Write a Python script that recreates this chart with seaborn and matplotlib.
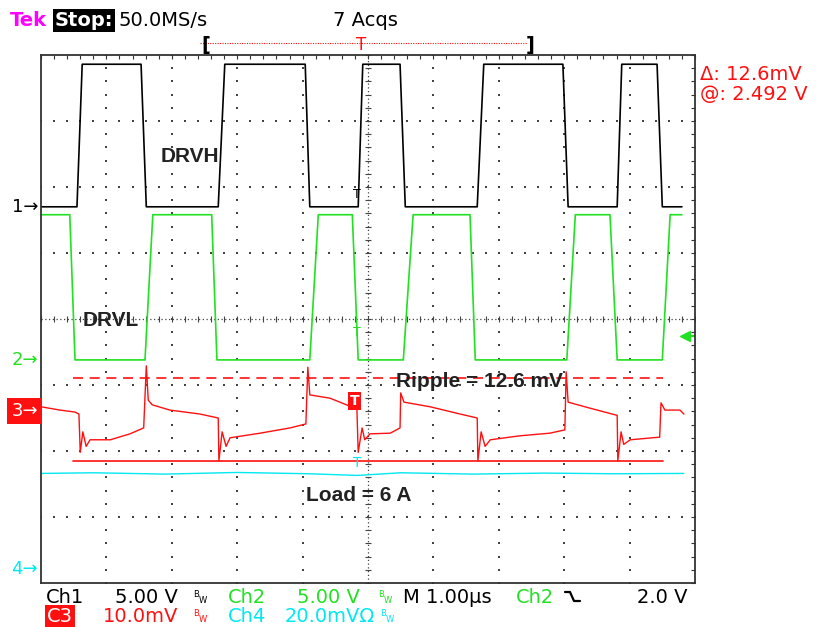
import numpy as np
import matplotlib
matplotlib.use("Agg")
import matplotlib.pyplot as plt
from matplotlib.lines import Line2D
import seaborn as sns

# ---- scope settings ----
W, H = 816, 627
CH1_SCALE, CH1_POS = 5.0, 1.70      # V/div, ground marker (div)
CH2_SCALE, CH2_POS = 5.0, -0.62
CH3_SCALE, CH3_POS = 10.0, -1.38    # mV/div
CH4_SCALE, CH4_POS = 20.0, -3.79

GREEN = "#22e022"
RED = "#ff1010"
CYAN = "#00e8f0"
MAGENTA = "#ff00ff"
TXT = "#222222"

# ---- traces (time in us, centre of screen = 0) ----
drvh_t = [-5.00, -4.45, -4.37, -3.47, -3.39, -2.29, -2.19, -0.96, -0.89, -0.15, -0.08,
          0.49, 0.57, 1.67, 1.77, 2.98, 3.06, 3.81, 3.88, 4.42, 4.50, 4.80]
drvh_v = [0.0, 0.0, 10.8, 10.8, 0.0, 0.0, 10.8, 10.8, 0.0, 0.0, 10.8,
          10.8, 0.0, 0.0, 10.8, 10.8, 0.0, 0.0, 10.8, 10.8, 0.0, 0.0]

drvl_t = [-5.00, -4.56, -4.48, -3.41, -3.29, -2.39, -2.31, -0.89, -0.76, -0.24, -0.15,
          0.54, 0.69, 1.56, 1.64, 3.04, 3.17, 3.70, 3.81, 4.50, 4.62, 4.80]
drvl_v = [11.0, 11.0, 0.0, 0.0, 11.0, 11.0, 0.0, 0.0, 11.0, 11.0, 0.0,
          0.0, 11.0, 11.0, 0.0, 0.0, 11.0, 11.0, 0.0, 0.0, 11.0, 11.0]

ripple_t = [-5.00, -4.71, -4.48, -4.42, -4.40, -4.36, -4.31, -4.25, -3.94, -3.64, -3.43,
            -3.39, -3.36, -3.30, -3.03, -2.57, -2.29, -2.28, -2.23, -2.17, -2.11, -1.65,
            -1.19, -0.95, -0.92, -0.89, -0.58, -0.28, -0.17, -0.15, -0.09, -0.05, 0.03,
            0.34, 0.49, 0.50, 0.55, 0.95, 1.41, 1.67, 1.68, 1.73, 1.79, 1.87, 2.32,
            2.78, 3.01, 3.03, 3.06, 3.39, 3.81, 3.82, 3.87, 3.91, 4.01, 4.46, 4.48,
            4.54, 4.77, 4.83]
ripple_mv = [0.5, 0.0, -0.3, -0.6, -6.4, -3.3, -5.5, -4.5, -4.5, -3.6, -2.7,
             6.7, 1.5, 0.8, 0.0, -0.6, -1.2, -7.7, -3.3, -5.5, -4.2, -3.5,
             -2.7, -2.1, 6.5, 2.3, 1.8, 0.6, 0.3, -6.4, -2.7, -4.5, -3.6,
             -3.5, -2.7, 2.6, 1.2, 0.5, -0.6, -1.2, -7.7, -3.3, -5.5, -4.5, -3.9,
             -3.5, -3.0, 5.8, 1.2, 0.3, -0.8, -7.7, -3.3, -5.2, -4.5, -4.1, 1.1,
             0.0, 0.0, -0.6]

load_t = [-5.00, -4.2, -3.1, -2.0, -0.9, -0.16, 0.5, 1.6, 2.7, 3.8, 4.83]
load_mv = [29.0, 29.2, 28.8, 29.3, 28.9, 28.4, 29.2, 28.8, 29.1, 28.9, 29.0]

ripple_hi, ripple_lo = 4.9, -7.7      # cursor lines (mV)
cursor_t = [-4.51, 4.51]

sns.set_style("white")
plt.rcParams["font.family"] = ["DejaVu Sans"]

fig = plt.figure(figsize=(W / 100, H / 100), dpi=100)
ax = fig.add_axes([41 / W, 44 / H, 654 / W, 528 / H])
ax.set_xlim(-5, 5)
ax.set_ylim(-4, 4)


def to_div(vals, scale, pos):
    return [pos + v / scale for v in vals]


# ---- graticule ----
fine = np.arange(-5, 5.001, 0.2)
fine_y = np.arange(-4, 4.001, 0.2)
for gx in range(-4, 5):
    if gx != 0:
        ax.scatter([gx] * len(fine_y), fine_y, s=1.2, color="#444", marker="s", lw=0)
for gy in range(-3, 4):
    if gy != 0:
        ax.scatter(fine, [gy] * len(fine), s=1.2, color="#444", marker="s", lw=0)
ax.plot([-5, 5], [0, 0], color="#444", lw=0.9, ls=(0, (1, 2)))
ax.plot([0, 0], [-4, 4], color="#444", lw=0.9, ls=(0, (1, 2)))
ax.plot(fine, [0] * len(fine), ls="none", marker="|", ms=5, color="#444", mew=0.8)
ax.plot([0] * len(fine_y), fine_y, ls="none", marker="_", ms=5, color="#444", mew=0.8)

ax.set_xticks(fine)
ax.set_yticks(fine_y)
ax.tick_params(direction="in", length=3, width=0.8, top=True, right=True,
               labelbottom=False, labelleft=False, color="#333")
for s in ax.spines.values():
    s.set_color("#333")
    s.set_linewidth(1.3)

# ---- traces ----
sns.lineplot(x=load_t, y=to_div(load_mv, CH4_SCALE, CH4_POS), ax=ax, color=CYAN,
             lw=1.0, estimator=None, sort=False)
ax.plot(cursor_t, to_div([ripple_hi] * 2, CH3_SCALE, CH3_POS), color=RED, lw=1.2,
        ls=(0, (6, 4)))
ax.plot(cursor_t, to_div([ripple_lo] * 2, CH3_SCALE, CH3_POS), color=RED, lw=1.2)
sns.lineplot(x=ripple_t, y=to_div(ripple_mv, CH3_SCALE, CH3_POS), ax=ax, color=RED,
             lw=1.0, estimator=None, sort=False)
sns.lineplot(x=drvl_t, y=to_div(drvl_v, CH2_SCALE, CH2_POS), ax=ax, color=GREEN,
             lw=1.2, estimator=None, sort=False)
sns.lineplot(x=drvh_t, y=to_div(drvh_v, CH1_SCALE, CH1_POS), ax=ax, color="black",
             lw=1.2, estimator=None, sort=False)

# trigger position markers
ax.text(-0.17, 1.88, "T", color="black", fontsize=9, ha="center", va="center")
ax.text(-0.17, -0.2, "T", color=GREEN, fontsize=9, ha="center", va="center")
ax.text(-0.20, -1.24, "T", color="white", fontsize=10, fontweight="bold", ha="center",
        va="center", bbox=dict(facecolor=RED, edgecolor="none", pad=1.2))
ax.text(-0.16, -2.18, "T", color=CYAN, fontsize=10, ha="center", va="center")
ax.plot([4.84], [-0.26], marker="<", ms=7, color=GREEN, ls="none")
ax.plot([4.84, 5.0], [-0.26, -0.26], color=GREEN, lw=1.5)

# trace labels
ann = dict(fontsize=15, fontweight="bold", color=TXT, va="center",
           family=["Liberation Sans", "DejaVu Sans"])
ax.text(-3.17, 2.46, "DRVH", **ann)
ax.text(-4.37, -0.03, "DRVL", **ann)
ax.text(0.43, -0.94, "Ripple = 12.6 mV", **ann)
ax.text(-0.95, -2.67, "Load = 6 A", **ann)


def ftext(x, y, s, **kw):
    kw.setdefault("fontsize", 14)
    kw.setdefault("va", "baseline")
    fig.text(x / W, 1 - y / H, s, **kw)


def bw(x, y, color):
    # small "B over W" bandwidth-limit glyph
    ftext(x, y - 6, "B", color=color, fontsize=6)
    ftext(x + 6, y, "W", color=color, fontsize=6)


# ---- header ----
ftext(10, 26, "Tek", color=MAGENTA, fontweight="bold")
ftext(55, 26, "Stop:", color="white", fontweight="bold",
      bbox=dict(facecolor="black", edgecolor="none", pad=1.2))
ftext(118, 26, "50.0MS/s", color="black")
ftext(333, 26, "7 Acqs", color="black")
fig.add_artist(Line2D([200 / W, 527 / W], [1 - 43 / H] * 2, color=RED, lw=0.8,
                      ls=(0, (1, 1.2))))
ftext(201, 51, "[", color="black", fontweight="bold")
ftext(526, 51, "]", color="black", fontweight="bold")
ftext(361, 50, "T", color=RED, fontsize=12, ha="center")

ftext(700, 80, "Δ: 12.6mV", color=RED)
ftext(700, 100, "@: 2.492 V", color=RED)

# ---- channel ground markers ----
ftext(38, 207, "1→", color="black", va="center", ha="right", fontsize=13)
ftext(38, 360, "2→", color=GREEN, va="center", ha="right", fontsize=13)
ftext(38, 411, "3→", color="white", va="center", ha="right", fontsize=13,
      bbox=dict(facecolor=RED, edgecolor="none", pad=3))
ftext(38, 569, "4→", color=CYAN, va="center", ha="right", fontsize=13)

# ---- bottom readout ----
ftext(46, 603, "Ch1", color="black")
ftext(115, 603, "5.00 V", color="black")
bw(193, 603, "black")
ftext(228, 603, "Ch2", color=GREEN)
ftext(297, 603, "5.00 V", color=GREEN)
bw(378, 603, GREEN)
ftext(403, 603, "M 1.00µs", color="black")
ftext(516, 603, "Ch2", color=GREEN)
fig.add_artist(Line2D(np.array([565, 570, 574, 580]) / W,
                      1 - np.array([592, 592, 601, 601]) / H, color="black", lw=1.6))
ftext(637, 603, "2.0 V", color="black")

ftext(47, 622, "C3", color="white", bbox=dict(facecolor=RED, edgecolor="none", pad=1.5))
ftext(76, 615, "Ds", color="white", fontsize=6)
ftext(103, 622, "10.0mV", color=RED)
bw(193, 622, RED)
ftext(228, 622, "Ch4", color=CYAN)
ftext(285, 622, "20.0mVΩ", color=CYAN)
bw(380, 622, CYAN)

fig.savefig("out.png", dpi=100, facecolor="white")
